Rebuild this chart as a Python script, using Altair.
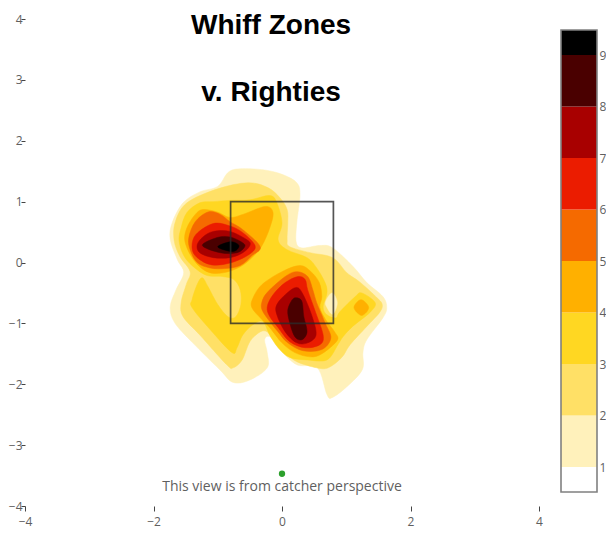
import altair as alt
import pandas as pd

TICKS = [-4, -2, 0, 2, 4]
YTICKS = [-4, -3, -2, -1, 0, 1, 2, 3, 4]
BAND_COLORS = ["#ffffff", "#fff1bb", "#ffe066", "#ffd722", "#ffb000", "#f56a00", "#eb1c00", "#a80000", "#4a0000", "#000000"]

L1 = [(-0.65,1.54),(-0.84,1.48),(-1.00,1.25),(-1.28,1.16),(-1.54,0.98),(-1.71,0.65),(-1.74,0.38),(-1.63,0.05),(-1.53,-0.17),(-1.65,-0.45),(-1.74,-0.73),(-1.67,-0.99),(-1.39,-1.32),(-0.97,-1.76),(-0.76,-1.97),(-0.50,-1.93),(-0.23,-1.73),(-0.23,-1.48),(-0.27,-1.27),(-0.19,-1.22),(-0.03,-1.43),(0.23,-1.68),(0.55,-1.73),(0.70,-2.17),(0.78,-2.22),(1.01,-2.04),(1.25,-1.76),(1.26,-1.48),(1.32,-1.27),(1.57,-0.91),(1.63,-0.74),(1.57,-0.56),(1.32,-0.33),(1.11,-0.07),(0.79,0.24),(0.59,0.28),(0.31,0.24),(0.22,0.34),(0.23,0.65),(0.28,1.11),(0.23,1.31),(0.02,1.44),(-0.27,1.52)]
L2 = [(-0.53,1.31),(-1.00,1.21),(-1.48,0.98),(-1.66,0.67),(-1.68,0.37),(-1.59,0.10),(-1.43,-0.15),(-1.49,-0.36),(-1.57,-0.66),(-1.54,-0.89),(-1.28,-1.19),(-0.86,-1.68),(-0.76,-1.73),(-0.62,-1.60),(-0.50,-1.30),(-0.34,-1.14),(-0.23,-1.14),(-0.14,-1.27),(0.05,-1.48),(0.23,-1.63),(0.54,-1.73),(0.72,-1.73),(0.93,-1.56),(1.06,-1.35),(1.32,-1.05),(1.52,-0.82),(1.56,-0.69),(1.48,-0.58),(1.21,-0.32),(1.01,-0.17),(0.79,0.08),(0.44,0.16),(0.12,0.26),(0.08,0.37),(0.09,0.65),(0.08,0.87),(-0.03,1.06),(-0.22,1.23)]
L2_HOLE = [(0.78,-0.50),(0.86,-0.66),(0.79,-0.85),(0.70,-0.74),(0.68,-0.64)]
L3 = [(-0.19,1.10),(-0.50,1.03),(-0.81,1.02),(-1.07,1.00),(-1.28,0.98),(-1.48,0.82),(-1.57,0.57),(-1.60,0.34),(-1.49,0.05),(-1.20,-0.20),(-0.93,-0.23),(-0.75,-0.28),(-0.65,-0.45),(-0.64,-0.69),(-0.72,-0.89),(-0.84,-0.89),(-1.00,-0.69),(-1.15,-0.40),(-1.24,-0.25),(-1.32,-0.36),(-1.40,-0.61),(-1.40,-0.74),(-1.12,-1.10),(-0.78,-1.48),(-0.70,-1.40),(-0.61,-1.19),(-0.45,-1.02),(-0.30,-0.97),(-0.19,-1.19),(-0.06,-1.40),(0.12,-1.56),(0.39,-1.60),(0.70,-1.60),(0.87,-1.35),(0.95,-1.22),(1.10,-1.05),(1.37,-0.82),(1.45,-0.66),(1.24,-0.50),(1.14,-0.56),(0.90,-0.81),(0.84,-0.91),(0.70,-0.86),(0.64,-0.73),(0.70,-0.50),(0.67,-0.33),(0.54,-0.09),(0.39,0.08),(0.08,0.21),(-0.06,0.37),(0.00,0.65),(-0.08,0.98)]
L4A = [(-0.14,0.82),(-0.26,0.92),(-0.61,0.79),(-0.81,0.74),(-1.01,0.83),(-1.23,0.87),(-1.35,0.79),(-1.48,0.57),(-1.51,0.34),(-1.38,0.05),(-1.17,-0.15),(-0.92,-0.17),(-0.65,-0.07),(-0.45,0.10),(-0.31,0.28),(-0.19,0.57)]
L4B = [(0.28,-0.05),(0.00,-0.15),(-0.31,-0.36),(-0.45,-0.58),(-0.47,-0.74),(-0.31,-0.94),(-0.19,-1.07),(0.00,-1.32),(0.20,-1.48),(0.44,-1.55),(0.62,-1.50),(0.86,-1.28),(0.82,-1.14),(0.68,-0.94),(0.59,-0.74),(0.62,-0.56),(0.58,-0.33),(0.45,-0.15)]
L4C = [(1.23,-0.61),(1.35,-0.74),(1.24,-0.87),(1.12,-0.74)]
L5A = [(-1.15,0.83),(-0.96,0.79),(-0.81,0.67),(-0.61,0.54),(-0.34,0.26),(-0.47,0.11),(-0.65,-0.05),(-0.89,-0.10),(-1.12,-0.09),(-1.32,0.00),(-1.43,0.21),(-1.45,0.41),(-1.35,0.67)]
L5B = [(0.23,-0.15),(0.05,-0.23),(-0.22,-0.48),(-0.31,-0.64),(-0.31,-0.78),(-0.19,-0.97),(-0.06,-1.14),(0.09,-1.32),(0.33,-1.45),(0.62,-1.43),(0.76,-1.24),(0.67,-0.99),(0.54,-0.66),(0.48,-0.45),(0.40,-0.23)]
L6A = [(-1.07,0.64),(-0.81,0.60),(-0.61,0.49),(-0.42,0.28),(-0.50,0.14),(-0.78,0.00),(-1.09,-0.04),(-1.32,0.08),(-1.40,0.24),(-1.34,0.46)]
L6B = [(0.25,-0.23),(0.05,-0.33),(-0.14,-0.53),(-0.23,-0.73),(-0.19,-0.89),(-0.06,-1.07),(0.12,-1.30),(0.36,-1.40),(0.59,-1.35),(0.64,-1.19),(0.51,-0.78),(0.40,-0.45),(0.36,-0.28)]
L7A = [(-1.07,0.51),(-0.81,0.51),(-0.54,0.37),(-0.50,0.28),(-0.61,0.16),(-0.81,0.08),(-1.07,0.08),(-1.28,0.16),(-1.32,0.29),(-1.23,0.42)]
L7B = [(0.23,-0.41),(0.08,-0.50),(-0.08,-0.69),(-0.08,-0.86),(0.05,-1.14),(0.23,-1.32),(0.40,-1.32),(0.53,-1.19),(0.47,-0.89),(0.33,-0.53)]
L8A = [(-1.24,0.28),(-1.01,0.41),(-0.81,0.42),(-0.62,0.33),(-0.58,0.26),(-0.70,0.16),(-0.96,0.16)]
L8B = [(0.23,-0.58),(0.16,-0.61),(0.09,-0.78),(0.12,-0.99),(0.20,-1.22),(0.31,-1.27),(0.39,-1.14),(0.34,-0.89),(0.31,-0.64)]
L9 = [(-1.00,0.26),(-0.81,0.34),(-0.70,0.31),(-0.67,0.26),(-0.73,0.19),(-0.84,0.19)]

CONTOURS = [
    (L1, 1), (L2, 2), (L2_HOLE, 1), (L3, 3), (L4A, 4), (L4B, 4), (L4C, 4),
    (L5A, 5), (L5B, 5), (L6A, 6), (L6B, 6), (L7A, 7), (L7B, 7), (L8A, 8), (L8B, 8), (L9, 9),
]

BAR_LOW = [0.515, 1, 2, 3, 4, 5, 6, 7, 8, 9]
BAR_HIGH = [1, 2, 3, 4, 5, 6, 7, 8, 9, 9.485]
BAR_TICKS = [1, 2, 3, 4, 5, 6, 7, 8, 9]

FONT = "Open Sans"
GREY = "#5f5f5f"

x_scale = alt.Scale(domain=[-4, 4], nice=False, zero=False)
y_scale = alt.Scale(domain=[-4, 4], nice=False, zero=False)

x_enc = alt.X("x:Q", scale=x_scale, axis=alt.Axis(
    values=TICKS, title=None, grid=False, domain=False, tickSize=5, tickColor="#444444",
    labelFont=FONT, labelFontSize=12, labelColor=GREY, labelPadding=5, labelFlush=False))
y_enc = alt.Y("y:Q", scale=y_scale, axis=alt.Axis(
    values=YTICKS, title=None, grid=False, domain=False, tickSize=4, tickColor="#444444",
    labelFont=FONT, labelFontSize=12, labelColor=GREY, labelPadding=-1, labelFlush=False))

layers = []
for points, band in CONTOURS:
    frame = pd.DataFrame(points, columns=["x", "y"])
    frame["seq"] = range(len(frame))
    layers.append(
        alt.Chart(frame).mark_line(
            fill=BAND_COLORS[band], stroke=BAND_COLORS[band], strokeWidth=0.5,
            interpolate="cardinal-closed", clip=False
        ).encode(x=x_enc, y=y_enc, order="seq:Q")
    )

box = alt.Chart(pd.DataFrame({"x": [-0.8], "x2": [0.8], "y": [-1.0], "y2": [1.0]})).mark_rect(
    fillOpacity=0, stroke="#2a2a2a", strokeOpacity=0.8, strokeWidth=1.7
).encode(x=x_enc, x2="x2:Q", y=y_enc, y2="y2:Q")

dot = alt.Chart(pd.DataFrame({"x": [0.0], "y": [-3.47]})).mark_point(
    filled=True, color="#2ca02c", size=40, opacity=1
).encode(x=x_enc, y=y_enc)

note = alt.Chart(pd.DataFrame({"x": [0.0], "y": [-3.68], "t": ["This view is from catcher perspective"]})).mark_text(
    font=FONT, fontSize=14, color=GREY, align="center", baseline="middle"
).encode(x=x_enc, y=y_enc, text="t:N")

titles = alt.Chart(pd.DataFrame({"x": [-0.17, -0.17], "y": [3.88, 2.79], "t": ["Whiff Zones", "v. Righties"]})).mark_text(
    font="Liberation Sans", fontSize=28, fontWeight="bold", color="#000000", align="center", baseline="middle"
).encode(x=x_enc, y=y_enc, text="t:N")

main = alt.layer(*layers, box, dot, note, titles).properties(width=514, height=487)

bar_frame = pd.DataFrame({"low": BAR_LOW, "high": BAR_HIGH, "color": BAND_COLORS})
bar_y = alt.Y("low:Q", scale=alt.Scale(domain=[0.243, 9.70], nice=False, zero=False), axis=alt.Axis(
    orient="right", values=BAR_TICKS, title=None, grid=False, domain=False, ticks=False,
    labelFont=FONT, labelFontSize=12, labelColor=GREY, labelPadding=2, format="d"))
bars = alt.Chart(bar_frame).mark_rect().encode(
    x=alt.value(0), x2=alt.value(36), y=bar_y, y2="high:Q",
    fill=alt.Fill("color:N", scale=None, legend=None)
)
outline = alt.Chart(pd.DataFrame({"low": [BAR_LOW[0]], "high": [BAR_HIGH[-1]]})).mark_rect(
    fillOpacity=0, stroke="#808080", strokeWidth=1.6
).encode(x=alt.value(0), x2=alt.value(36), y=bar_y, y2="high:Q")
colorbar = alt.layer(bars, outline).properties(width=36, height=487)

chart = alt.hconcat(main, colorbar, spacing=17).properties(
    padding={"left": 0, "top": 4, "right": 0, "bottom": 4}
).configure_view(stroke=None)

chart.save("out.html", embed_options={"renderer": "svg", "actions": False})
